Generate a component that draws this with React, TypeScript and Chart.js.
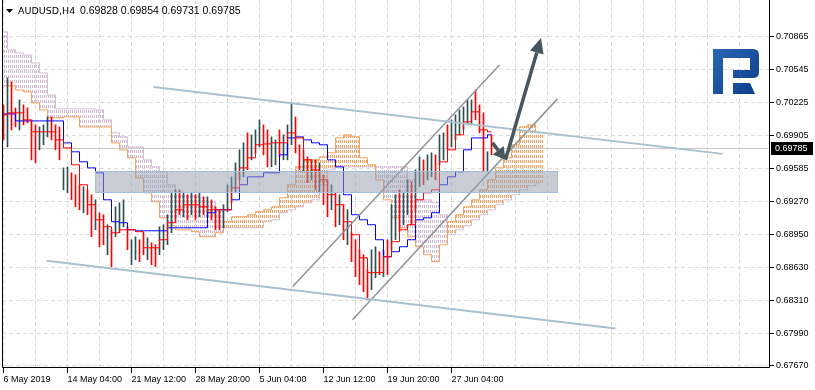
import React, { useEffect, useRef } from 'react';
import { Chart, registerables } from 'chart.js';

Chart.register(...registerables);

// ---------- header text ----------
const symbolTitle = 'AUDUSD,H4';
const quoteText = '0.69828 0.69854 0.69731 0.69785';
const lastPrice = 0.69785;

// ---------- axes ----------
const priceTicks = [0.70865, 0.70545, 0.70225, 0.69905, 0.69585, 0.6927, 0.6895, 0.6863, 0.6831, 0.6799, 0.6767];
const priceMin = 0.676505;
const priceMax = 0.712243;
const timeLabels = ['6 May 2019', '14 May 04:00', '21 May 12:00', '28 May 20:00', '5 Jun 04:00', '12 Jun 12:00', '19 Jun 20:00', '27 Jun 04:00'];
const timeLabelBars = [0, 32, 64, 96, 128, 160, 192, 224];
const gridBars = [0, 16, 32, 48, 64, 80, 96, 112, 128, 144, 160, 176, 192, 208, 224, 240, 256, 272, 288, 304, 320, 336, 352, 368];
const barMin = -0.75;
const barMax = 383.25;

// ---------- price bars (one entry every 2 H4 bars) ----------
const BAR_STEP = 2;
const barHigh = [
  0.70206, 0.70467, 0.70429, 0.70176, 0.70254, 0.70206, 0.70176, 0.7006, 0.70012, 0.69992,
  0.70012, 0.70089, 0.70089, 0.70012, 0.69992, 0.69594, 0.69604, 0.69546, 0.69527, 0.6943,
  0.6941, 0.69381, 0.69333, 0.69284, 0.69158, 0.69139, 0.69042, 0.68993, 0.69216, 0.69255,
  0.69284, 0.69022, 0.68896, 0.68925, 0.68896, 0.68964, 0.68915, 0.68867, 0.68848, 0.69022,
  0.69042, 0.69139, 0.69352, 0.69381, 0.69381, 0.69352, 0.69333, 0.69352, 0.69333, 0.69352,
  0.69313, 0.69313, 0.69284, 0.69216, 0.69187, 0.69236, 0.6943, 0.69507, 0.69643, 0.69769,
  0.69837, 0.69934, 0.69915, 0.69963, 0.7006, 0.70012, 0.69963, 0.69895, 0.69866, 0.69963,
  0.69915, 0.70012, 0.70225, 0.70089, 0.69818, 0.69769, 0.69701, 0.69672, 0.69672, 0.69643,
  0.69527, 0.69478, 0.6943, 0.69352, 0.69333, 0.69236, 0.69187, 0.68964, 0.68896, 0.68799,
  0.68751, 0.68605, 0.68799, 0.68828, 0.6878, 0.68799, 0.68896, 0.69236, 0.69333, 0.69381,
  0.69352, 0.69478, 0.69459, 0.69575, 0.69701, 0.69672, 0.69721, 0.6974, 0.69721, 0.69915,
  0.69934, 0.70012, 0.7006, 0.70109, 0.70157, 0.70186, 0.70254, 0.70254, 0.70351, 0.70206,
  0.70128, 0.6975, 0.69915,
];
const barLow = [
  0.69866, 0.69798, 0.69963, 0.69992, 0.69963, 0.70012, 0.70031, 0.69672, 0.69643, 0.69769,
  0.69818, 0.69895, 0.69866, 0.69769, 0.69672, 0.69381, 0.69352, 0.69284, 0.69216, 0.69187,
  0.69158, 0.69139, 0.68925, 0.68993, 0.68828, 0.68848, 0.68751, 0.68634, 0.68925, 0.68964,
  0.69022, 0.68799, 0.68654, 0.68702, 0.68683, 0.68751, 0.68702, 0.68654, 0.68634, 0.68751,
  0.68799, 0.68848, 0.68964, 0.6909, 0.69139, 0.69119, 0.6909, 0.69139, 0.6909, 0.69119,
  0.69139, 0.69119, 0.6909, 0.68993, 0.68993, 0.69012, 0.69168, 0.69255, 0.69352, 0.69478,
  0.69507, 0.69575, 0.69672, 0.6974, 0.69798, 0.69721, 0.69604, 0.69604, 0.69624, 0.69701,
  0.69672, 0.69672, 0.69818, 0.6974, 0.69575, 0.69556, 0.69449, 0.69478, 0.69381, 0.69352,
  0.69236, 0.69119, 0.69187, 0.69022, 0.69042, 0.68896, 0.68848, 0.68683, 0.68537, 0.6846,
  0.68392, 0.68314, 0.68411, 0.68527, 0.68557, 0.68537, 0.68557, 0.68799, 0.68896, 0.68974,
  0.69042, 0.69139, 0.69042, 0.69187, 0.6941, 0.6943, 0.69478, 0.69507, 0.69478, 0.69624,
  0.69672, 0.69769, 0.69798, 0.69866, 0.69915, 0.69963, 0.70012, 0.70012, 0.7006, 0.69934,
  0.69556, 0.69556, 0.69721,
];
// U = up bar, D = down bar
const barDirection =
  'DUDDUDDDDU' + 'UUDDDUUDDD' + 'UDDUDDUDUU' + 'UDUUDDUDDU' + 'UUUUDUDUDU' + 'DUDDDUUUUU' +
  'UDUUUDDUUD' + 'UUUDDUDUDU' + 'DDUDUDUDDD' + 'DDUUDUDUUD' + 'UUDUUDUUDU' + 'UDUUUUUUDD' + 'DUD';

// ---------- Ichimoku lines (one entry every 4 H4 bars) ----------
const LINE_STEP = 4;
const tenkanSen = [
  0.70109, 0.70128, 0.70128, 0.7006, 0.69944, 0.69944, 0.69944, 0.69866, 0.69788, 0.69624,
  0.6943, 0.69236, 0.6909, 0.69022, 0.68964, 0.68993, 0.68993, 0.68974, 0.68818, 0.68818,
  0.68896, 0.69061, 0.69187, 0.69236, 0.69236, 0.69216, 0.69187, 0.69187, 0.69187, 0.694,
  0.69594, 0.69691, 0.69818, 0.69827, 0.69837, 0.69837, 0.69934, 0.69885, 0.69672, 0.69575,
  0.69478, 0.69333, 0.69236, 0.69071, 0.68945, 0.68721, 0.68576, 0.68576, 0.68731, 0.68877,
  0.68993, 0.69042, 0.69284, 0.69352, 0.69381, 0.69653, 0.69769, 0.69915, 0.70041, 0.70138,
  0.69963, 0.69944,
];
const kijunSen = [
  0.70118, 0.70118, 0.7005, 0.7005, 0.7005, 0.7005, 0.7005, 0.7005, 0.69837, 0.6975,
  0.69653, 0.69594, 0.69546, 0.69284, 0.69071, 0.69061, 0.68993, 0.68983, 0.68983, 0.68983,
  0.68983, 0.69012, 0.69012, 0.69012, 0.69012, 0.69012, 0.69158, 0.69187, 0.69187, 0.69284,
  0.6943, 0.69507, 0.69507, 0.69546, 0.69546, 0.69721, 0.69885, 0.69895, 0.69866, 0.69837,
  0.69818, 0.69672, 0.69604, 0.69333, 0.69139, 0.6909, 0.69042, 0.68896, 0.68731, 0.6878,
  0.68828, 0.68896, 0.6909, 0.69109, 0.69158, 0.6943, 0.69507, 0.69556, 0.69769, 0.69885,
  0.69885, 0.69915,
];
const senkouSpanA = [
  0.7039, 0.7039, 0.70351, 0.70332, 0.70225, 0.70157, 0.70079, 0.70079, 0.70089, 0.70089,
  0.69992, 0.69992, 0.69992, 0.69992, 0.69837, 0.69769, 0.69691, 0.69497, 0.69352, 0.69265,
  0.69109, 0.69032, 0.68993, 0.68993, 0.68974, 0.68925, 0.68925, 0.68964, 0.69071, 0.69119,
  0.69119, 0.69139, 0.69168, 0.69187, 0.69216, 0.69303, 0.6943, 0.69604, 0.69672, 0.69672,
  0.69701, 0.6974, 0.69885, 0.69915, 0.69895, 0.69691, 0.69624, 0.69478, 0.69284, 0.69109,
  0.69012, 0.68925, 0.68828, 0.68751, 0.68683, 0.68848, 0.69071, 0.69139, 0.69216, 0.69284,
  0.69381, 0.69478, 0.69594, 0.69691, 0.69818, 0.69992, 0.70012, 0.69934,
];
const senkouSpanB = [
  0.70914, 0.70739, 0.7071, 0.7069, 0.70613, 0.70516, 0.70302, 0.70167, 0.70167, 0.70167,
  0.70167, 0.70167, 0.70157, 0.7006, 0.69934, 0.69895, 0.69798, 0.69798, 0.69672, 0.69604,
  0.69556, 0.6943, 0.69362, 0.69352, 0.69323, 0.69303, 0.69265, 0.69168, 0.69012, 0.69012,
  0.69012, 0.69012, 0.69012, 0.69071, 0.6909, 0.69158, 0.69187, 0.69216, 0.69255, 0.69284,
  0.6943, 0.69575, 0.69604, 0.69604, 0.69604, 0.69604, 0.69604, 0.69604, 0.69604, 0.69604,
  0.69604, 0.69478, 0.69284, 0.69284, 0.69255, 0.69139, 0.68945, 0.68993, 0.69032, 0.6909,
  0.69139, 0.69187, 0.69236, 0.69284, 0.69333, 0.69381, 0.6942, 0.69439,
];

// ---------- drawn objects: [bar index, price] ----------
const resistanceLine = [[75, 0.7038], [359.5, 0.6973]];
const supportLine = [[21.5, 0.68692], [306, 0.68033]];
const channelUpper = [[144.5, 0.6844], [248, 0.70594]];
const channelLower = [[174.5, 0.6812], [277, 0.70264]];
const arrowDown = [[244.5, 0.69837], [251, 0.69672]];
const arrowUp = [[251, 0.69672], [268.75, 0.70855]];
const zoneBars = [45.5, 277];
const zonePrices = [0.69565, 0.69352];

const FONT = '"Liberation Sans", Arial, sans-serif';
const TITLE_FONT = '"DejaVu Sans", Verdana, sans-serif';

export default function App() {
  const ref = useRef<HTMLCanvasElement>(null);

  useEffect(() => {
    const canvas = ref.current as HTMLCanvasElement;
    const ctx0 = canvas.getContext('2d') as CanvasRenderingContext2D;

    const hatch = (color: string) => {
      const c = document.createElement('canvas');
      c.width = 2;
      c.height = 5;
      const g = c.getContext('2d') as CanvasRenderingContext2D;
      g.fillStyle = color;
      g.fillRect(0, 0, 1, 3);
      return ctx0.createPattern(c, 'repeat') as CanvasPattern;
    };
    const orangeHatch = hatch('#F4A460');
    const thistleHatch = hatch('#D2B9D2');

    const series = (vals: number[], step: number) => vals.map((v, i) => ({ x: i * step, y: v }));
    const seg = (pts: number[][]) => pts.map((p) => ({ x: p[0], y: p[1] }));
    const barData = barHigh.map((h, i) => ({ x: i * BAR_STEP, y: [barLow[i], h] }));
    const barColors = barHigh.map((_, i) => (barDirection[i] === 'U' ? '#2F4F4F' : '#FF0000'));
    const cloudData = senkouSpanA.map((a, j) => ({
      x: j * LINE_STEP,
      y: [Math.min(a, senkouSpanB[j]), Math.max(a, senkouSpanB[j])],
    }));
    const cloudColors = senkouSpanA.map((a, j) => (a >= senkouSpanB[j] ? orangeHatch : thistleHatch));

    const lineBase = { type: 'line', pointRadius: 0, pointHoverRadius: 0, fill: false, tension: 0 };

    const overlay = {
      id: 'overlay',
      beforeDatasetsDraw(chart: any) {
        const { ctx, chartArea: a, scales } = chart;
        const py = Math.round(scales.y.getPixelForValue(lastPrice)) + 0.5;
        ctx.save();
        ctx.strokeStyle = '#C8C8C8';
        ctx.lineWidth = 1;
        ctx.beginPath();
        ctx.moveTo(a.left, py);
        ctx.lineTo(a.right, py);
        ctx.stroke();
        ctx.restore();
      },
      afterDatasetsDraw(chart: any) {
        const { ctx, chartArea: a, scales } = chart;
        const xs = scales.x;
        const ys = scales.y;
        ctx.save();
        ctx.beginPath();
        ctx.rect(a.left, a.top, a.right - a.left, a.bottom - a.top);
        ctx.clip();
        // zone
        const zx0 = Math.round(xs.getPixelForValue(zoneBars[0]));
        const zx1 = Math.round(xs.getPixelForValue(zoneBars[1]));
        const zy0 = Math.round(ys.getPixelForValue(zonePrices[0]));
        const zy1 = Math.round(ys.getPixelForValue(zonePrices[1]));
        ctx.fillStyle = 'rgba(150,160,175,0.52)';
        ctx.fillRect(zx0, zy0, zx1 - zx0, zy1 - zy0);
        ctx.strokeStyle = 'rgba(160,190,225,0.9)';
        ctx.lineWidth = 1;
        ctx.strokeRect(zx0 + 0.5, zy0 + 0.5, zx1 - zx0 - 1, zy1 - zy0 - 1);
        // arrows
        const drawArrow = (pts: number[][], headLen: number, headW: number) => {
          const x0 = xs.getPixelForValue(pts[0][0]);
          const y0 = ys.getPixelForValue(pts[0][1]);
          const x1 = xs.getPixelForValue(pts[1][0]);
          const y1 = ys.getPixelForValue(pts[1][1]);
          const ang = Math.atan2(y1 - y0, x1 - x0);
          const bx = x1 - headLen * Math.cos(ang);
          const by = y1 - headLen * Math.sin(ang);
          ctx.strokeStyle = '#47565F';
          ctx.fillStyle = '#47565F';
          ctx.lineWidth = 3.5;
          ctx.beginPath();
          ctx.moveTo(x0, y0);
          ctx.lineTo(bx, by);
          ctx.stroke();
          ctx.beginPath();
          ctx.moveTo(x1, y1);
          ctx.lineTo(bx + headW * Math.sin(ang), by - headW * Math.cos(ang));
          ctx.lineTo(bx - headW * Math.sin(ang), by + headW * Math.cos(ang));
          ctx.closePath();
          ctx.fill();
        };
        drawArrow(arrowDown, 12, 7);
        drawArrow(arrowUp, 15, 7);
        ctx.restore();
      },
      afterDraw(chart: any) {
        const { ctx, chartArea: a, scales } = chart;
        ctx.save();
        // frame
        ctx.strokeStyle = '#000';
        ctx.lineWidth = 1;
        ctx.beginPath();
        ctx.moveTo(a.left + 0.5, a.top);
        ctx.lineTo(a.left + 0.5, a.bottom - 0.5);
        ctx.lineTo(a.right - 0.5, a.bottom - 0.5);
        ctx.lineTo(a.right - 0.5, a.top);
        ctx.stroke();
        // header
        ctx.fillStyle = '#000';
        ctx.beginPath();
        ctx.moveTo(6, 9);
        ctx.lineTo(13, 9);
        ctx.lineTo(9.5, 13);
        ctx.closePath();
        ctx.fill();
        ctx.textBaseline = 'alphabetic';
        ctx.textAlign = 'left';
        ctx.font = '9.5px ' + TITLE_FONT;
        ctx.fillText(symbolTitle, 18, 14);
        ctx.font = '10.5px ' + FONT;
        ctx.fillText(quoteText, 80, 14);
        // logo
        const lx = a.right - 57;
        const ly = 49;
        const grad = ctx.createLinearGradient(lx, ly, lx + 46, ly + 45);
        grad.addColorStop(0, '#2A67B5');
        grad.addColorStop(1, '#0C3D88');
        ctx.fillStyle = grad;
        ctx.beginPath();
        ctx.moveTo(lx, ly);
        ctx.lineTo(lx + 40, ly);
        ctx.quadraticCurveTo(lx + 46, ly, lx + 46, ly + 6);
        ctx.lineTo(lx + 46, ly + 23);
        ctx.quadraticCurveTo(lx + 46, ly + 29, lx + 40, ly + 29);
        ctx.lineTo(lx + 20, ly + 29);
        ctx.lineTo(lx + 20, ly + 21);
        ctx.lineTo(lx + 37, ly + 21);
        ctx.lineTo(lx + 37, ly + 9);
        ctx.lineTo(lx + 10, ly + 9);
        ctx.lineTo(lx + 10, ly + 45);
        ctx.lineTo(lx, ly + 45);
        ctx.closePath();
        ctx.fill();
        ctx.beginPath();
        ctx.moveTo(lx + 20, ly + 34);
        ctx.lineTo(lx + 37, ly + 34);
        ctx.lineTo(lx + 42, ly + 45);
        ctx.lineTo(lx + 20, ly + 45);
        ctx.closePath();
        ctx.fill();
        // last price label
        const py = Math.round(scales.y.getPixelForValue(lastPrice));
        ctx.fillStyle = '#000';
        ctx.fillRect(a.right + 1, py - 6, 42, 13);
        ctx.fillStyle = '#fff';
        ctx.font = '9px ' + FONT;
        ctx.textBaseline = 'middle';
        ctx.fillText(lastPrice.toFixed(5), a.right + 5, py + 1);
        ctx.restore();
      },
    };

    const chart = new Chart(canvas, {
      type: 'bar',
      data: {
        datasets: [
          { ...lineBase, data: seg(resistanceLine), borderColor: '#A9C0CE', borderWidth: 2, order: 1 },
          { ...lineBase, data: seg(supportLine), borderColor: '#A9C0CE', borderWidth: 2, order: 1 },
          { ...lineBase, data: seg(channelUpper), borderColor: '#8E9399', borderWidth: 1.5, order: 1 },
          { ...lineBase, data: seg(channelLower), borderColor: '#8E9399', borderWidth: 1.5, order: 1 },
          { ...lineBase, data: series(tenkanSen, LINE_STEP), borderColor: '#FF0000', borderWidth: 1, stepped: 'middle', order: 2 },
          { ...lineBase, data: series(kijunSen, LINE_STEP), borderColor: '#0000FF', borderWidth: 1, stepped: 'middle', order: 3 },
          { type: 'bar', data: barData, backgroundColor: barColors, borderWidth: 0, barThickness: 1, stack: 'p', order: 4 },
          { ...lineBase, data: series(senkouSpanA, LINE_STEP), borderColor: '#F4A460', borderWidth: 1, stepped: 'middle', order: 5 },
          { ...lineBase, data: series(senkouSpanB, LINE_STEP), borderColor: '#D8BFD8', borderWidth: 1, stepped: 'middle', order: 5 },
          { type: 'bar', data: cloudData, backgroundColor: cloudColors, borderWidth: 0, barThickness: 8, stack: 'p', order: 7 },
        ],
      } as any,
      options: {
        responsive: false,
        animation: false,
        events: [],
        devicePixelRatio: 1,
        layout: { padding: { left: 2, top: 0, right: 0, bottom: 0 } },
        plugins: { legend: { display: false }, tooltip: { enabled: false }, title: { display: false } },
        scales: {
          x: {
            type: 'linear',
            min: barMin,
            max: barMax,
            offset: false,
            afterBuildTicks: (s: any) => {
              s.ticks = gridBars.map((v) => ({ value: v }));
            },
            afterFit: (s: any) => {
              s.height = 22;
              s.paddingLeft = 0;
              s.paddingRight = 0;
            },
            grid: {
              color: '#DCDCDC',
              lineWidth: 1,
              offset: false,
              drawTicks: true,
              tickLength: 5,
              tickBorderDash: [],
              tickColor: (c: any) => (c.tick && timeLabelBars.indexOf(c.tick.value) >= 0 ? '#000' : 'rgba(0,0,0,0)'),
            },
            border: { display: false, dash: [4, 3] },
            ticks: {
              autoSkip: false,
              maxRotation: 0,
              minRotation: 0,
              align: 'start',
              padding: 1,
              color: '#000',
              font: { family: FONT, size: 9 },
              callback: (v: any) => {
                const k = timeLabelBars.indexOf(Number(v));
                return k >= 0 ? timeLabels[k] : '';
              },
            },
          },
          y: {
            type: 'linear',
            position: 'right',
            min: priceMin,
            max: priceMax,
            stacked: false,
            afterBuildTicks: (s: any) => {
              s.ticks = priceTicks.map((v) => ({ value: v }));
            },
            afterFit: (s: any) => {
              s.width = 45;
              s.paddingTop = 0;
              s.paddingBottom = 0;
            },
            grid: { color: '#DCDCDC', lineWidth: 1, tickLength: 4, tickColor: '#000', tickBorderDash: [] },
            border: { display: false, dash: [4, 3] },
            ticks: {
              padding: 2,
              color: '#000',
              font: { family: FONT, size: 9 },
              callback: (v: any) => Number(v).toFixed(5),
            },
          },
        },
      } as any,
      plugins: [overlay],
    });

    return () => chart.destroy();
  }, []);

  return (
    <div style={{ position: 'fixed', left: 0, top: 0, width: 815, height: 390, background: '#fff' }}>
      <canvas ref={ref} width={815} height={390} style={{ display: 'block', width: 815, height: 390 }} />
    </div>
  );
}
